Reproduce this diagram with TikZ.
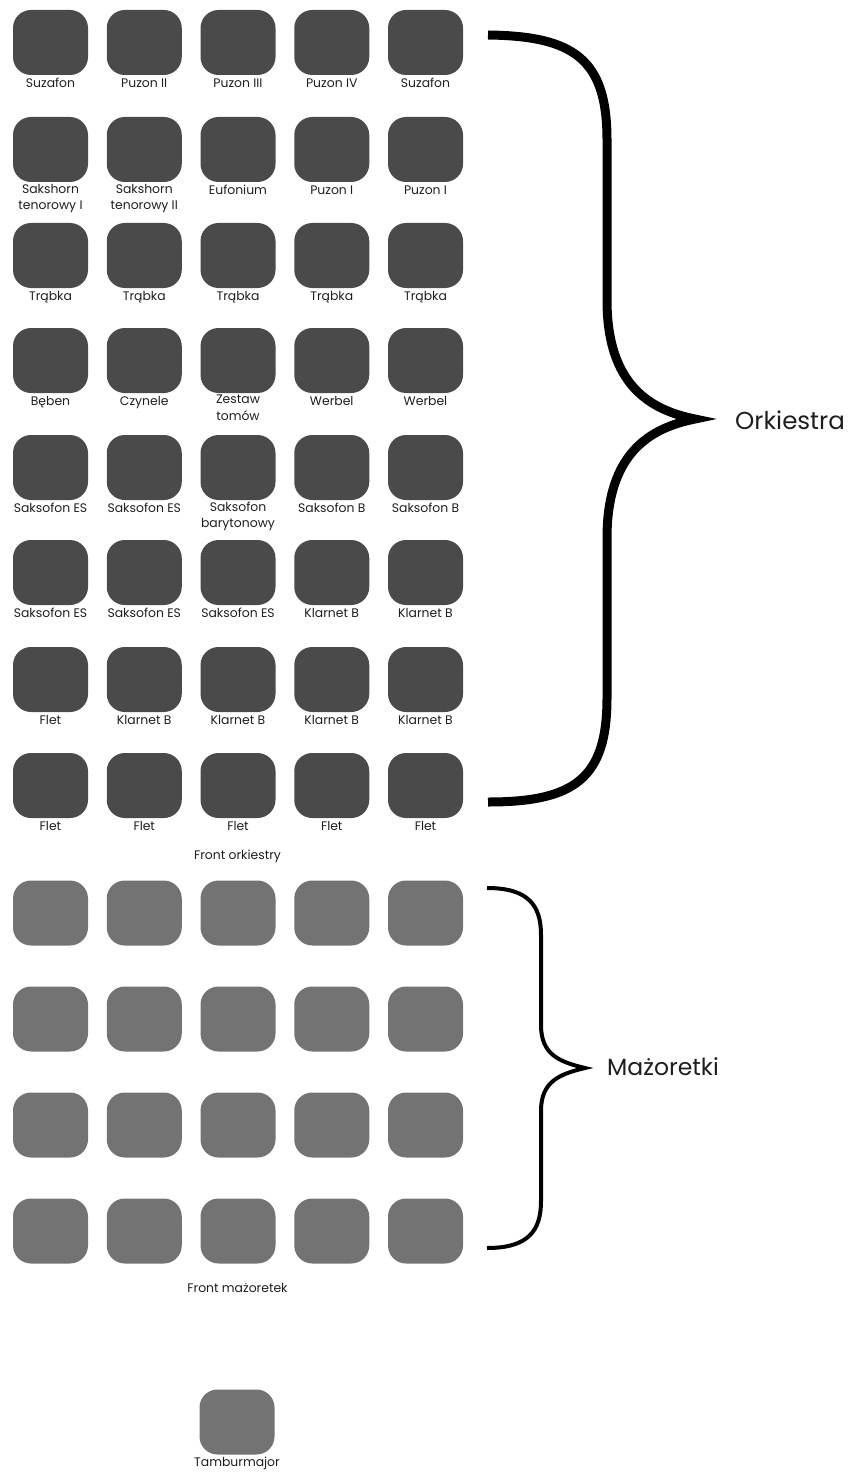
\documentclass[tikz,border=0pt]{standalone}
\usepackage{fontspec}
\setmainfont{Poppins}
\usetikzlibrary{positioning}
\definecolor{orkGrafit}{HTML}{4A4A4A}
\definecolor{majSzary}{HTML}{737373}
\definecolor{napis}{HTML}{1E1E1E}

\begin{document}
\begin{tikzpicture}[x=1pt, y=-1pt,
      seat/.style={rounded corners=18pt, fill=#1, minimum width=75pt,
                   minimum height=65pt, inner sep=0pt},
      lbl/.style={font=\fontsize{12.4}{16.5}\selectfont, text=napis,
                  align=center, inner sep=0pt,
                  execute at begin node={\rule{0pt}{10.5pt}}},
      grp/.style={font=\fontsize{#1}{26}\selectfont, text=napis, inner sep=0pt},
      brace/.style={line width=#1, line join=miter, miter limit=10}]
    \useasboundingbox (0,0) rectangle (857,1479);
    % Orkiestra, rzedy od gory
    \foreach \n [count=\c from 0] in {Suzafon,Puzon II,Puzon III,Puzon IV,Suzafon}{
      \node[seat=orkGrafit] (o1-\c) at (50.5+93.75*\c,42.5) {};
      \node[lbl, below=1.5pt of o1-\c] (l1-\c) {\n};}
    \foreach \n [count=\c from 0] in {{Sakshorn\\tenorowy I},{Sakshorn\\tenorowy II},Eufonium,Puzon I,Puzon I}{
      \node[seat=orkGrafit] (o2-\c) at (50.5+93.75*\c,149.5) {};
      \node[lbl, below=1.5pt of o2-\c] (l2-\c) {\n};}
    \foreach \n [count=\c from 0] in {Trąbka,Trąbka,Trąbka,Trąbka,Trąbka}{
      \node[seat=orkGrafit] (o3-\c) at (50.5+93.75*\c,255.5) {};
      \node[lbl, below=1.5pt of o3-\c] (l3-\c) {\n};}
    \foreach \n [count=\c from 0] in {Bęben,Czynele,{Zestaw\\tomów},Werbel,Werbel}{
      \node[seat=orkGrafit] (o4-\c) at (50.5+93.75*\c,360.5) {};
      \node[lbl, below=1.5pt of o4-\c] (l4-\c) {\n};}
    \foreach \n [count=\c from 0] in {Saksofon ES,Saksofon ES,{Saksofon\\barytonowy},Saksofon B,Saksofon B}{
      \node[seat=orkGrafit] (o5-\c) at (50.5+93.75*\c,467.5) {};
      \node[lbl, below=1.5pt of o5-\c] (l5-\c) {\n};}
    \foreach \n [count=\c from 0] in {Saksofon ES,Saksofon ES,Saksofon ES,Klarnet B,Klarnet B}{
      \node[seat=orkGrafit] (o6-\c) at (50.5+93.75*\c,572.5) {};
      \node[lbl, below=1.5pt of o6-\c] (l6-\c) {\n};}
    \foreach \n [count=\c from 0] in {Flet,Klarnet B,Klarnet B,Klarnet B,Klarnet B}{
      \node[seat=orkGrafit] (o7-\c) at (50.5+93.75*\c,679.5) {};
      \node[lbl, below=1.5pt of o7-\c] (l7-\c) {\n};}
    \foreach \n [count=\c from 0] in {Flet,Flet,Flet,Flet,Flet}{
      \node[seat=orkGrafit] (o8-\c) at (50.5+93.75*\c,785.5) {};
      \node[lbl, below=1.5pt of o8-\c] (l8-\c) {\n};}
    \node[lbl] (frontO) at (237.5,856) {Front orkiestry};
    % Mazoretki
    \foreach \r in {0,...,3}
      \foreach \c in {0,...,4}
        \node[seat=majSzary] (m\r-\c) at (50.5+93.75*\c,913+106*\r) {};
    \node[lbl] (frontM) at (237.5,1287) {Front mażoretek};
    \node[seat=majSzary] (tm) at (237,1422) {};
    \node[lbl, below=1.5pt of tm] (tmLbl) {Tamburmajor};
    % klamry
    \coordinate (tipO) at (695,419);
    \coordinate (tipM) at (585,1068);
    \draw[brace=9pt] (488,35) .. controls (575,36) and (607,60) .. (607,140)
      -- (607,300) .. controls (607,385) and (650,410) .. (tipO)
      .. controls (650,428) and (607,453) .. (607,538)
      -- (607,698) .. controls (607,778) and (575,802) .. (488,802);
    \draw[brace=4pt] (487,888) .. controls (528,888) and (541,905) .. (541,935)
      -- (541,1025) .. controls (541,1055) and (560,1062) .. (tipM)
      .. controls (560,1074) and (541,1081) .. (541,1111)
      -- (541,1201) .. controls (541,1231) and (528,1248) .. (487,1248);
    \node[grp=24.5, anchor=west] (orkiestra) at (735,420) {Orkiestra};
    \node[grp=23.5, anchor=west] (mazoretki) at (607,1067) {Mażoretki};
  \end{tikzpicture}
\end{document}
